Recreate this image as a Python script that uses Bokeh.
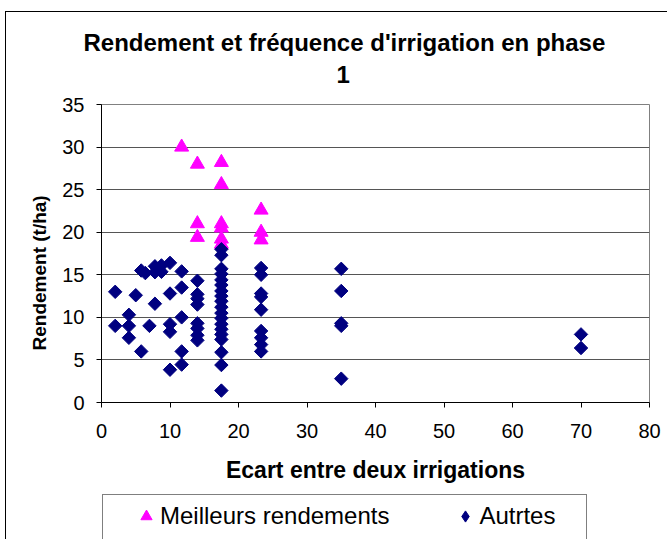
import math
from bokeh.plotting import figure
from bokeh.layouts import column
from bokeh.models import Legend, LegendItem, Range1d, Title
from bokeh.embed import file_html
from bokeh.resources import INLINE

# ---- data ----
best_x = [11.7, 14.0, 14.0, 14.0, 17.5, 17.5, 17.5, 17.5, 17.5, 17.5, 23.3, 23.3, 23.3]
best_y = [30.0, 28.0, 21.0, 19.4, 28.2, 25.6, 21.0, 20.5, 19.2, 18.6, 22.6, 20.0, 19.1]

other_x = [2.0, 2.0,
           4.0, 4.0, 4.0,
           5.0,
           5.8, 5.8,
           6.4,
           7.0,
           7.8, 7.8, 7.8,
           8.75, 8.75,
           10.0, 10.0, 10.0, 10.0, 10.0,
           11.7, 11.7, 11.7, 11.7, 11.7,
           14.0, 14.0, 14.0, 14.0, 14.0, 14.0, 14.0, 14.0,
           17.5, 17.5, 17.5, 17.5, 17.5, 17.5, 17.5, 17.5, 17.5, 17.5,
           17.5, 17.5, 17.5, 17.5, 17.5, 17.5, 17.5, 17.5, 17.5,
           23.3, 23.3, 23.3, 23.3, 23.3, 23.3, 23.3, 23.3, 23.3,
           35.0, 35.0, 35.0, 35.0, 35.0,
           70.0, 70.0]
other_y = [13.0, 9.0,
           10.3, 9.0, 7.6,
           12.6,
           15.5, 6.0,
           15.2,
           9.0,
           16.0, 15.3, 11.6,
           16.1, 15.35,
           16.4, 12.8, 9.2, 8.3, 3.85,
           15.4, 13.5, 10.0, 6.0, 4.45,
           14.3, 12.7, 12.2, 11.5, 9.3, 8.7, 7.9, 7.3,
           18.0, 17.3, 15.7, 15.1, 14.4, 13.8, 13.1, 12.5, 11.9, 11.2,
           10.5, 9.9, 9.2, 8.6, 8.0, 7.4, 5.9, 4.4, 1.4,
           15.8, 15.0, 12.8, 12.4, 10.9, 8.4, 7.6, 6.8, 6.0,
           15.7, 13.1, 9.3, 9.0, 2.8,
           8.0, 6.4]

x_ticks = [0, 10, 20, 30, 40, 50, 60, 70, 80]
y_ticks = [0, 5, 10, 15, 20, 25, 30, 35]

title_line1 = "Rendement et fréquence d'irrigation en phase"
title_line2 = "1"
x_label = "Ecart entre deux irrigations"
y_label = "Rendement (t/ha)"
series_names = ["Meilleurs rendements", "Autrtes"]

FONT = "Liberation Sans"
MAGENTA = "#FF00FF"
NAVY = "#000080"

# ---------------- main chart ----------------
p = figure(width=661, height=480, output_backend="svg", toolbar_location=None,
           x_range=Range1d(0, 80), y_range=Range1d(0, 35),
           min_border_left=95, min_border_right=18, min_border_top=92, min_border_bottom=90,
           background_fill_color="white", border_fill_color="white")

p.outline_line_color = "#808080"
p.outline_line_width = 1
p.xgrid.visible = False
p.ygrid.grid_line_color = "#555555"
p.ygrid.grid_line_width = 1

for ax in (p.xaxis, p.yaxis):
    ax.axis_line_color = "black"
    ax.major_tick_line_color = "black"
    ax.minor_tick_line_color = None
    ax.major_tick_in = 0
    ax.major_tick_out = 5
    ax.major_label_text_font = FONT
    ax.major_label_text_font_size = "20px"
    ax.major_label_text_color = "black"

p.xaxis.ticker = x_ticks
p.yaxis.ticker = y_ticks
p.xaxis.major_label_standoff = 16
p.yaxis.major_label_standoff = 12

p.xaxis.axis_label = x_label
p.xaxis.axis_label_text_font = FONT
p.xaxis.axis_label_text_font_style = "bold"
p.xaxis.axis_label_text_font_size = "23px"
p.xaxis.axis_label_text_color = "black"
p.xaxis.axis_label_standoff = 16

# titles: long line on top, "1" nearest to the plot
p.title.text = title_line1
p.title.align = "left"
p.title.offset = -18
p.title.standoff = -28
p.title.text_font = FONT
p.title.text_font_style = "bold"
p.title.text_font_size = "24px"
p.title.text_color = "black"
p.add_layout(Title(text=title_line2, align="left", offset=235, standoff=44,
                   text_font=FONT, text_font_style="bold", text_font_size="24px",
                   text_color="black"), "above")

# y axis title on the left, starting 52px above the x axis
p.add_layout(Title(text=y_label, align="left", offset=52, standoff=20,
                   text_font=FONT, text_font_style="bold", text_font_size="19px",
                   text_color="black"), "left")

p.scatter(best_x, best_y, marker="triangle", size=14,
          fill_color=MAGENTA, line_color=MAGENTA)
p.scatter(other_x, other_y, marker="square", angle=math.pi / 4, size=9.5,
          fill_color=NAVY, line_color=NAVY)

# ---------------- legend strip (its frame lines up with the chart's frame) ----------------
pl = figure(width=661, height=47, output_backend="svg", toolbar_location=None,
            x_axis_type=None, y_axis_type=None, min_border=0,
            x_range=Range1d(0, 80), y_range=Range1d(-20, -10),
            outline_line_color=None, background_fill_color="white",
            border_fill_color="white")
# same series, lying outside this strip's visible range: only their legend glyphs show
lg_best = pl.scatter(best_x, best_y, marker="triangle",
                     fill_color=MAGENTA, line_color=MAGENTA)
lg_other = pl.scatter(other_x, other_y, marker="diamond",
                      fill_color=NAVY, line_color=NAVY)
lg_dummy = pl.scatter(other_x, other_y, marker="square", fill_alpha=0, line_alpha=0)

box = Legend(items=[LegendItem(label=" ", renderers=[lg_dummy])], location=(1, -57),
             orientation="horizontal", padding=0, margin=0, spacing=0,
             glyph_width=10, glyph_height=100, label_height=100, label_width=473,
             label_standoff=0, label_text_font_size="2px",
             border_line_color="black", border_line_width=1,
             background_fill_alpha=0)
pl.add_layout(box, "center")

legend = Legend(items=[LegendItem(label=series_names[0], renderers=[lg_best]),
                       LegendItem(label=series_names[1], renderers=[lg_other])],
                location=(31, 9), orientation="horizontal", padding=0, margin=0,
                spacing=62, glyph_width=28, glyph_height=28, label_height=28,
                label_standoff=0,
                label_text_font=FONT, label_text_font_size="24px", label_text_color="black",
                border_line_alpha=0, background_fill_alpha=0)
pl.add_layout(legend, "center")

page = column(p, pl, spacing=0,
              styles={"position": "relative", "top": "12px", "left": "6px",
                      "outline": "1px solid black"})

open("out.html", "w").write(file_html(page, INLINE))
